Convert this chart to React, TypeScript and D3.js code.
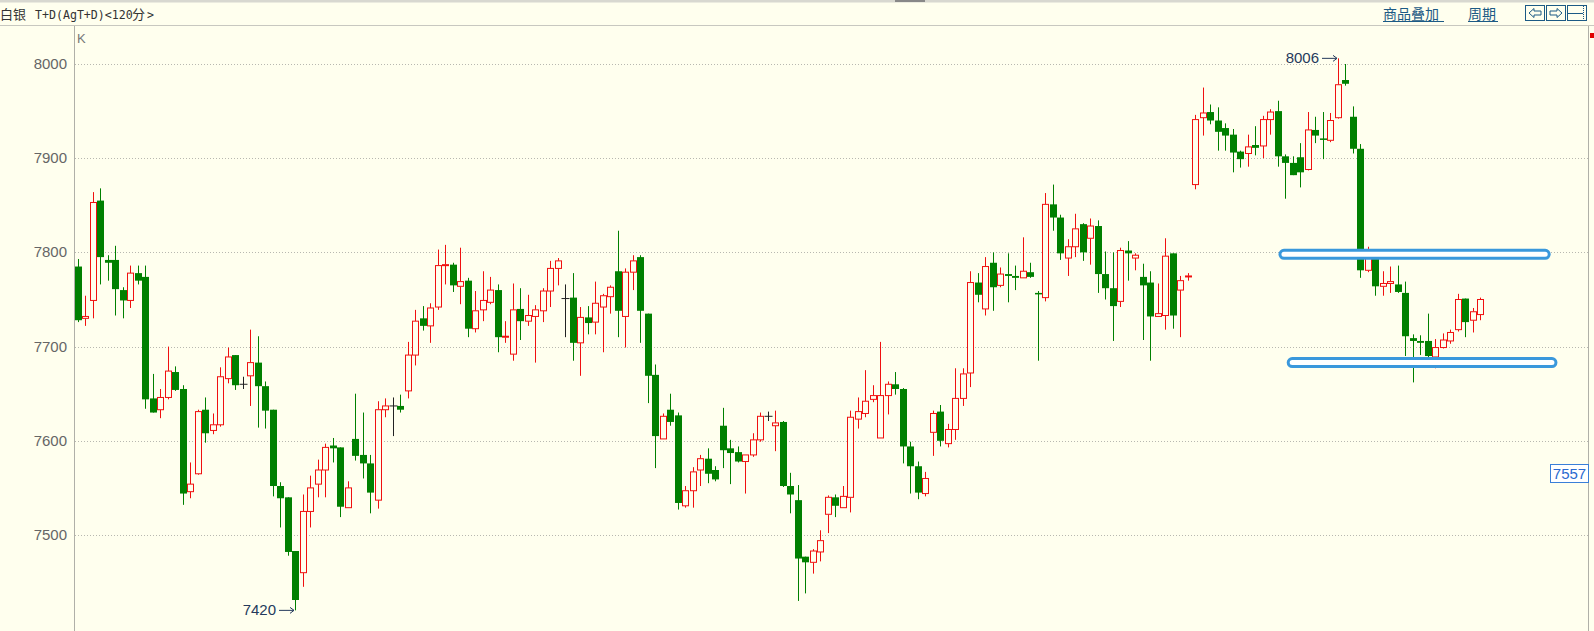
import React from 'react';
import * as d3 from 'd3';

// [open, high, low, close] per 120-minute bar
const candles: [number, number, number, number][] = [
  [7785, 7793, 7726, 7728], [7730, 7754, 7722, 7732], [7749, 7864, 7730, 7853], [7855, 7868, 7766, 7795],
  [7792, 7797, 7770, 7789], [7792, 7807, 7733, 7761], [7760, 7763, 7730, 7749], [7749, 7786, 7741, 7778],
  [7778, 7786, 7766, 7770], [7774, 7786, 7634, 7644], [7645, 7671, 7630, 7630], [7633, 7655, 7624, 7646],
  [7646, 7700, 7644, 7674], [7673, 7679, 7653, 7654], [7655, 7659, 7532, 7544], [7546, 7577, 7539, 7554],
  [7565, 7633, 7564, 7631], [7633, 7646, 7598, 7608], [7611, 7629, 7607, 7617], [7617, 7678, 7615, 7668],
  [7666, 7699, 7661, 7689], [7691, 7691, 7654, 7659], [7660, 7668, 7655, 7660], [7669, 7718, 7637, 7683],
  [7683, 7711, 7614, 7658], [7658, 7663, 7613, 7632], [7633, 7633, 7541, 7552], [7552, 7556, 7508, 7539],
  [7540, 7540, 7478, 7482], [7483, 7483, 7420, 7431], [7460, 7543, 7445, 7525], [7525, 7563, 7508, 7550],
  [7554, 7580, 7540, 7569], [7569, 7597, 7540, 7593], [7595, 7603, 7577, 7592], [7593, 7593, 7519, 7530],
  [7529, 7557, 7529, 7550], [7602, 7650, 7579, 7584], [7585, 7630, 7560, 7576], [7576, 7585, 7523, 7545],
  [7537, 7642, 7528, 7633], [7633, 7645, 7625, 7637], [7637, 7646, 7605, 7637], [7637, 7649, 7630, 7633],
  [7653, 7705, 7645, 7691], [7691, 7739, 7680, 7727], [7730, 7743, 7717, 7722], [7722, 7746, 7704, 7741],
  [7742, 7803, 7739, 7786], [7786, 7808, 7766, 7787], [7787, 7789, 7758, 7765], [7764, 7805, 7745, 7769],
  [7770, 7773, 7710, 7719], [7719, 7759, 7715, 7738], [7739, 7780, 7727, 7749], [7747, 7774, 7745, 7760],
  [7760, 7766, 7694, 7710], [7710, 7727, 7704, 7711], [7692, 7767, 7685, 7739], [7740, 7762, 7707, 7727],
  [7727, 7755, 7722, 7733], [7732, 7744, 7683, 7739], [7738, 7762, 7726, 7759], [7759, 7791, 7742, 7783],
  [7783, 7794, 7765, 7791], [7751, 7766, 7710, 7751], [7752, 7778, 7685, 7704], [7704, 7742, 7669, 7731],
  [7731, 7743, 7713, 7725], [7726, 7769, 7713, 7746], [7742, 7756, 7694, 7754], [7753, 7765, 7735, 7763],
  [7780, 7823, 7710, 7738], [7732, 7783, 7699, 7779], [7779, 7797, 7760, 7791], [7795, 7797, 7704, 7738],
  [7735, 7735, 7640, 7669], [7670, 7681, 7571, 7605], [7602, 7629, 7602, 7626], [7633, 7650, 7616, 7620],
  [7627, 7630, 7527, 7534], [7531, 7552, 7529, 7547], [7547, 7572, 7529, 7567], [7569, 7585, 7552, 7581],
  [7581, 7592, 7555, 7565], [7569, 7573, 7557, 7559], [7616, 7635, 7571, 7590], [7592, 7601, 7554, 7587],
  [7588, 7594, 7577, 7578], [7578, 7585, 7544, 7585], [7585, 7608, 7583, 7601], [7601, 7630, 7599, 7626],
  [7626, 7631, 7621, 7626], [7616, 7632, 7589, 7619], [7620, 7621, 7551, 7552], [7552, 7566, 7523, 7543],
  [7537, 7553, 7430, 7475], [7477, 7477, 7438, 7471], [7471, 7485, 7459, 7483], [7482, 7505, 7472, 7494],
  [7522, 7542, 7502, 7540], [7540, 7543, 7519, 7531], [7529, 7552, 7529, 7541], [7540, 7632, 7524, 7625],
  [7623, 7646, 7613, 7631], [7629, 7675, 7625, 7642], [7644, 7659, 7641, 7648], [7603, 7705, 7603, 7648],
  [7648, 7663, 7628, 7660], [7660, 7673, 7649, 7655], [7655, 7656, 7576, 7594], [7594, 7599, 7544, 7573],
  [7573, 7578, 7538, 7545], [7544, 7567, 7541, 7560], [7609, 7632, 7584, 7629], [7631, 7638, 7594, 7600],
  [7597, 7618, 7593, 7612], [7612, 7677, 7601, 7645], [7645, 7677, 7637, 7671], [7672, 7780, 7657, 7768],
  [7768, 7778, 7747, 7755], [7740, 7795, 7733, 7785], [7789, 7800, 7738, 7763], [7765, 7784, 7763, 7777],
  [7777, 7799, 7747, 7775], [7775, 7786, 7760, 7773], [7773, 7816, 7773, 7780], [7779, 7789, 7773, 7774],
  [7757, 7759, 7685, 7756], [7752, 7863, 7748, 7851], [7851, 7872, 7823, 7837], [7837, 7840, 7792, 7799],
  [7794, 7814, 7775, 7806], [7806, 7841, 7795, 7825], [7830, 7831, 7791, 7800], [7815, 7836, 7787, 7828],
  [7828, 7834, 7757, 7777], [7777, 7801, 7750, 7762], [7762, 7800, 7706, 7743], [7748, 7805, 7742, 7802],
  [7802, 7812, 7770, 7799], [7794, 7799, 7781, 7797], [7774, 7788, 7707, 7765], [7768, 7780, 7685, 7732],
  [7732, 7767, 7732, 7735], [7733, 7815, 7718, 7796], [7799, 7799, 7719, 7733], [7760, 7775, 7710, 7770],
  [7774, 7778, 7770, 7775], [7872, 7946, 7867, 7941], [7943, 7975, 7924, 7948], [7949, 7957, 7936, 7940],
  [7940, 7954, 7908, 7928], [7932, 7937, 7908, 7924], [7925, 7931, 7885, 7906], [7907, 7908, 7890, 7899],
  [7905, 7925, 7891, 7912], [7914, 7934, 7903, 7911], [7913, 7945, 7900, 7941], [7941, 7952, 7925, 7949],
  [7950, 7961, 7891, 7902], [7902, 7904, 7857, 7895], [7895, 7902, 7882, 7882], [7901, 7916, 7869, 7885],
  [7888, 7949, 7887, 7930], [7930, 7944, 7916, 7924], [7921, 7949, 7899, 7920], [7919, 7948, 7917, 7940],
  [7943, 8006, 7942, 7978], [7983, 8000, 7977, 7979], [7944, 7955, 7905, 7910], [7910, 7915, 7773, 7781],
  [7781, 7806, 7779, 7796], [7799, 7799, 7754, 7764], [7764, 7780, 7754, 7767], [7767, 7785, 7757, 7769],
  [7766, 7786, 7757, 7758], [7757, 7769, 7690, 7711], [7709, 7713, 7662, 7706], [7706, 7712, 7691, 7704],
  [7706, 7735, 7688, 7690], [7689, 7708, 7677, 7699], [7699, 7714, 7698, 7707], [7706, 7718, 7703, 7715],
  [7718, 7756, 7716, 7750], [7751, 7751, 7710, 7726], [7728, 7741, 7715, 7737], [7734, 7752, 7728, 7750],
];

const yTicks = [7500, 7600, 7700, 7800, 7900, 8000];

// drawn horizontal levels (price, from bar index, to bar index)
const levelPrices = [7798, 7683];
const levelFrom = [160.3, 161.4];
const levelTo = [196.2, 197.1];

const highMark = { index: 168, price: 8006, label: '8006' };
const lowMark = { index: 29, price: 7420, label: '7420' };
const cursorPrice = '7557';

const titleName = '白银';
const titleCode = 'T+D(AgT+D)<120';
const titleUnit = '分';

const W = 1594;
const H = 631;
const BG = '#FFFFEE';
const UP = '#F01010';
const DOWN = '#008000';
const LINK = '#1C5A85';

export default function App() {
  const x = d3.scaleLinear().domain([0, candles.length - 1]).range([77.7, 1480.2]);
  const y = d3.scaleLinear().domain([7500, 8000]).range([535, 64]);
  const bw = 6;

  const numFont = '"Liberation Sans", Arial, sans-serif';
  const monoFont = '"DejaVu Sans Mono", "Liberation Mono", monospace';
  const cjkFont = '"Noto Sans CJK SC", sans-serif';

  return (
    <svg width={W} height={H} style={{ position: 'absolute', left: 0, top: 0 }}>
      <rect x={0} y={0} width={W} height={H} fill={BG} />
      {/* header */}
      <rect x={0} y={0} width={W} height={2.5} fill="#D8D8D0" />
      <rect x={895} y={0} width={30} height={2} fill="#888" />
      <line x1={0} x2={W} y1={25.5} y2={25.5} stroke="#C8C8C0" />
      <text y={19} fill="#333">
        <tspan x={0} fontFamily={cjkFont} fontSize={13}>{titleName}</tspan>
        <tspan x={35} fontFamily={monoFont} fontSize={11.6}>{titleCode}</tspan>
        <tspan x={132} fontFamily={cjkFont} fontSize={13}>{titleUnit}</tspan>
        <tspan x={147} fontFamily={monoFont} fontSize={11.6}>{'>'}</tspan>
      </text>
      <text x={1383} y={19} fontFamily={cjkFont} fontSize={14} fill={LINK}>商品叠加</text>
      <line x1={1383} x2={1444} y1={21.5} y2={21.5} stroke={LINK} />
      <text x={1468} y={19} fontFamily={cjkFont} fontSize={14} fill={LINK}>周期</text>
      <line x1={1468} x2={1498} y1={21.5} y2={21.5} stroke={LINK} />
      {/* nav buttons */}
      <g stroke={LINK} fill="none" strokeWidth={1}>
        <rect x={1525.5} y={5.5} width={19} height={15} />
        <rect x={1546.5} y={5.5} width={19} height={15} />
        <rect x={1567.5} y={5.5} width={19} height={15} />
        <path d="M1529 13 L1534 8.5 L1534 11 L1541 11 L1541 15 L1534 15 L1534 17.5 Z" />
        <path d="M1562 13 L1557 8.5 L1557 11 L1550 11 L1550 15 L1557 15 L1557 17.5 Z" />
        <line x1={1568} x2={1583} y1={13.5} y2={13.5} />
        <line x1={1583.5} x2={1583.5} y1={6} y2={20} strokeDasharray="1,1" />
      </g>

      {/* plot frame */}
      <line x1={74.5} x2={74.5} y1={26} y2={H} stroke="#B0B0A8" />
      <line x1={1588.5} x2={1588.5} y1={26} y2={H} stroke="#B0B0A8" />
      <rect x={1590} y={33} width={4} height={5} fill="#E00000" />
      <text x={77} y={43} fontFamily={numFont} fontSize={13} fill="#777">K</text>

      {/* grid + y labels */}
      {yTicks.map((t) => (
        <g key={t}>
          <line x1={75} x2={1588} y1={Math.round(y(t)) + 0.5} y2={Math.round(y(t)) + 0.5}
            stroke="#B8B8B0" strokeDasharray="1,2" />
          <text x={67} y={y(t) + 5} textAnchor="end" fontFamily={numFont} fontSize={15} fill="#666">{t}</text>
        </g>
      ))}

      {/* candles */}
      {candles.map(([o, h, l, c], i) => {
        const cx = Math.round(x(i)) + 0.5;
        if (o === c) {
          return (
            <g key={i} stroke="#222">
              <line x1={cx} x2={cx} y1={y(h)} y2={y(l)} />
              <line x1={cx - 4} x2={cx + 4} y1={y(o)} y2={y(o)} />
            </g>
          );
        }
        const up = c > o;
        const col = up ? UP : DOWN;
        const top = y(Math.max(o, c));
        const bot = y(Math.min(o, c));
        if (up) {
          return (
            <g key={i} stroke={col}>
              <line x1={cx} x2={cx} y1={y(h)} y2={top} />
              <line x1={cx} x2={cx} y1={bot} y2={y(l)} />
              <rect x={cx - bw / 2} y={top} width={bw} height={Math.max(bot - top, 1)} fill={BG} />
            </g>
          );
        }
        return (
          <g key={i}>
            <line x1={cx} x2={cx} y1={y(h)} y2={y(l)} stroke={col} />
            <rect x={cx - bw / 2 - 0.5} y={top} width={bw + 1} height={Math.max(bot - top, 1.5)} fill={col} />
          </g>
        );
      })}

      {/* drawn levels */}
      {levelPrices.map((p, k) => (
        <rect key={p} x={x(levelFrom[k])} y={y(p) - 4} width={x(levelTo[k]) - x(levelFrom[k])} height={8}
          rx={4} fill="#FFFFFF" stroke="#3A98DC" strokeWidth={3} />
      ))}

      {/* high / low markers */}
      {[highMark, lowMark].map((m) => {
        const mx = Math.round(x(m.index));
        const my = y(m.price);
        return (
          <g key={m.label}>
            <text x={mx - 19} y={my + 5} textAnchor="end" fontFamily={numFont} fontSize={15} fill="#253A5C">{m.label}</text>
            <line x1={mx - 16} x2={mx - 1} y1={my} y2={my} stroke="#253A5C" />
            <path d={`M${mx - 1} ${my} L${mx - 5} ${my - 3} M${mx - 1} ${my} L${mx - 5} ${my + 3}`} stroke="#253A5C" fill="none" />
          </g>
        );
      })}

      {/* cursor price box */}
      <rect x={1550.5} y={464.5} width={38} height={18} fill="#FFFFFF" stroke="#3A7FD8" />
      <text x={1569.5} y={479} textAnchor="middle" fontFamily={numFont} fontSize={15} fill="#2A6AD0">{cursorPrice}</text>
    </svg>
  );
}
